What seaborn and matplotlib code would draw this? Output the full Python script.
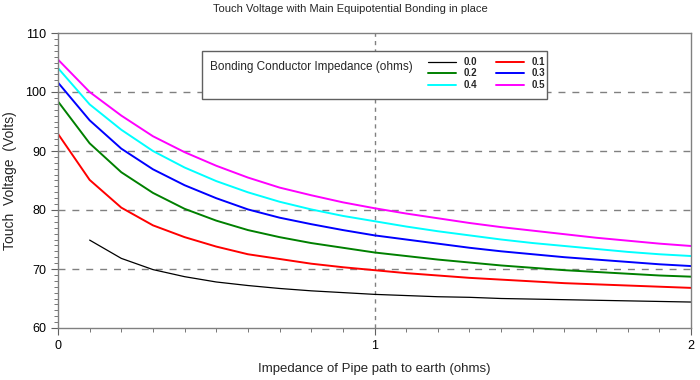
import matplotlib
matplotlib.use("Agg")
import matplotlib.pyplot as plt
from matplotlib.patches import Rectangle
from matplotlib.ticker import MultipleLocator, FixedLocator, FormatStrFormatter
import seaborn as sns
import pandas as pd
import numpy as np

# ---- data ----
pipe_impedance = [0.0, 0.1, 0.2, 0.3, 0.4, 0.5, 0.6, 0.7, 0.8, 0.9, 1.0,
                  1.1, 1.2, 1.3, 1.4, 1.5, 1.6, 1.7, 1.8, 1.9, 2.0]
bond_labels = ["0.0", "0.1", "0.2", "0.3", "0.4", "0.5"]
x_ticks = [0, 1, 2]
y_ticks = [60, 70, 80, 90, 100, 110]
v_00 = [np.nan, 74.9, 71.8, 69.9, 68.7, 67.8, 67.2, 66.7, 66.3, 66.0, 65.7,
        65.5, 65.3, 65.2, 65.0, 64.9, 64.8, 64.7, 64.6, 64.5, 64.4]
v_01 = [92.9, 85.1, 80.4, 77.4, 75.4, 73.8, 72.5, 71.7, 70.9, 70.3, 69.8,
        69.3, 68.9, 68.5, 68.2, 67.9, 67.6, 67.4, 67.2, 67.0, 66.8]
v_02 = [98.4, 91.3, 86.4, 82.9, 80.2, 78.2, 76.6, 75.4, 74.4, 73.6, 72.8,
        72.2, 71.6, 71.1, 70.6, 70.2, 69.8, 69.5, 69.2, 68.9, 68.7]
v_03 = [101.6, 95.2, 90.4, 86.9, 84.2, 82.0, 80.1, 78.7, 77.6, 76.6, 75.7,
        75.0, 74.3, 73.6, 73.0, 72.5, 72.0, 71.6, 71.2, 70.8, 70.5]
v_04 = [104.05, 97.9, 93.6, 90.0, 87.2, 84.9, 83.0, 81.4, 80.1, 79.0, 78.1,
        77.2, 76.4, 75.7, 75.0, 74.4, 73.9, 73.4, 72.9, 72.5, 72.2]
v_05 = [105.5, 100.0, 96.0, 92.5, 89.8, 87.5, 85.5, 83.8, 82.5, 81.3, 80.3,
        79.4, 78.6, 77.8, 77.1, 76.5, 75.9, 75.3, 74.8, 74.3, 73.9]
series = [v_00, v_01, v_02, v_03, v_04, v_05]
colors = ["#000000", "#ff0000", "#008000", "#0000ff", "#00ffff", "#ff00ff"]

rows = []
for lab, vals in zip(bond_labels, series):
    for x, v in zip(pipe_impedance, vals):
        if not np.isnan(v):
            rows.append({"pipe": x, "volts": v, "bond": lab})
df = pd.DataFrame(rows)

sns.set_style("white")
plt.rcParams["font.family"] = ["Liberation Sans", "DejaVu Sans"]

fig = plt.figure(figsize=(7, 3.8), dpi=100)
ax = fig.add_axes([58 / 700, 1 - 328 / 380, 633 / 700, 295 / 380])

sns.lineplot(data=df, x="pipe", y="volts", hue="bond", hue_order=bond_labels,
             palette=dict(zip(bond_labels, colors)), ax=ax, legend=False,
             linewidth=1.4)
ax.lines[0].set_linewidth(0.9)

ax.set_xlim(x_ticks[0], x_ticks[-1])
ax.set_ylim(y_ticks[0], y_ticks[-1])
ax.xaxis.set_major_locator(FixedLocator(x_ticks))
ax.xaxis.set_major_formatter(FormatStrFormatter("%d"))
ax.xaxis.set_minor_locator(MultipleLocator(0.1))
ax.yaxis.set_major_locator(FixedLocator(y_ticks))
ax.yaxis.set_major_formatter(FormatStrFormatter("%d"))
ax.yaxis.set_minor_locator(MultipleLocator(1))
ax.tick_params(which="both", direction="out", colors="#606060",
               labelcolor="black", labelsize=9, left=True, bottom=True)
ax.tick_params(which="major", length=5, width=0.8)
ax.tick_params(which="minor", length=3, width=0.6)

for y in y_ticks[1:-1]:
    ax.axhline(y, color="#808080", lw=1, ls=(0, (5, 5)), zorder=0)
ax.axvline(x_ticks[1], color="#808080", lw=1, ls=(0, (3, 3)), zorder=0)

for s in ax.spines.values():
    s.set_color("#808080")
    s.set_linewidth(1)
    s.set_visible(True)

ax.set_xlabel("Impedance of Pipe path to earth (ohms)", fontsize=9.5, labelpad=8)
ax.set_ylabel("Touch  Voltage  (Volts)", fontsize=10, labelpad=6)
fig.text(0.5, 1 - 9 / 380, "Touch Voltage with Main Equipotential Bonding in place",
         ha="center", va="center", fontsize=8)

# legend box
x0, x1 = (202 - 58) / 633, (547 - 58) / 633
y0, y1 = (328 - 99) / 295, (328 - 51) / 295
ax.add_patch(Rectangle((x0, y0), x1 - x0, y1 - y0, transform=ax.transAxes,
                       facecolor="white", edgecolor="#606060", lw=1, zorder=5))
ax.text((210 - 58) / 633, (328 - 67) / 295, "Bonding Conductor Impedance (ohms)",
        transform=ax.transAxes, fontsize=8.5, va="center", ha="left", zorder=6)
handles = ax.lines[:6]
order = [0, 2, 4, 1, 3, 5]
leg = ax.legend([handles[i] for i in order], [bond_labels[i] for i in order],
                ncol=2, frameon=False, fontsize=7, loc="upper right",
                bbox_to_anchor=((545 - 58) / 633, (328 - 57) / 295),
                handlelength=2.8, handletextpad=0.8, columnspacing=2.0,
                labelspacing=0.15, borderpad=0, borderaxespad=0)
leg.set_zorder(7)
for t in leg.get_texts():
    t.set_fontweight("bold")

fig.savefig("out.png", dpi=100)
